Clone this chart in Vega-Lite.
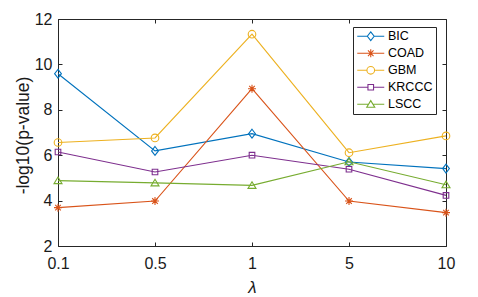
{
  "$schema": "https://vega.github.io/schema/vega-lite/v6.json",
  "width": 388,
  "height": 227,
  "autosize": {"type": "none"},
  "padding": {"left": 58, "top": 19, "right": 32, "bottom": 51},
  "background": "white",
  "config": {
    "view": {"stroke": null},
    "font": "Liberation Sans",
    "axis": {
      "domainColor": "#262626",
      "domainWidth": 1,
      "tickColor": "#262626",
      "tickWidth": 1,
      "labelColor": "#1a1a1a",
      "labelFont": "Liberation Sans",
      "labelFontSize": 16,
      "titleFont": "Liberation Sans",
      "titleColor": "#1a1a1a",
      "titleFontWeight": "normal",
      "grid": false
    }
  },
  "data": {
    "values": [
      {"lambda": "0.1", "series": "BIC", "value": 9.59},
      {"lambda": "0.5", "series": "BIC", "value": 6.19},
      {"lambda": "1", "series": "BIC", "value": 6.95},
      {"lambda": "5", "series": "BIC", "value": 5.7},
      {"lambda": "10", "series": "BIC", "value": 5.41},
      {"lambda": "0.1", "series": "COAD", "value": 3.69},
      {"lambda": "0.5", "series": "COAD", "value": 3.98},
      {"lambda": "1", "series": "COAD", "value": 8.93},
      {"lambda": "5", "series": "COAD", "value": 3.98},
      {"lambda": "10", "series": "COAD", "value": 3.47},
      {"lambda": "0.1", "series": "GBM", "value": 6.56},
      {"lambda": "0.5", "series": "GBM", "value": 6.76},
      {"lambda": "1", "series": "GBM", "value": 11.33},
      {"lambda": "5", "series": "GBM", "value": 6.11},
      {"lambda": "10", "series": "GBM", "value": 6.85},
      {"lambda": "0.1", "series": "KRCCC", "value": 6.14},
      {"lambda": "0.5", "series": "KRCCC", "value": 5.26},
      {"lambda": "1", "series": "KRCCC", "value": 6.0},
      {"lambda": "5", "series": "KRCCC", "value": 5.38},
      {"lambda": "10", "series": "KRCCC", "value": 4.23},
      {"lambda": "0.1", "series": "LSCC", "value": 4.88},
      {"lambda": "0.5", "series": "LSCC", "value": 4.78},
      {"lambda": "1", "series": "LSCC", "value": 4.67},
      {"lambda": "5", "series": "LSCC", "value": 5.71},
      {"lambda": "10", "series": "LSCC", "value": 4.7}
    ]
  },
  "layer": [
    {
      "mark": {"type": "line", "strokeWidth": 1.1},
      "encoding": {
        "x": {
          "field": "lambda", "type": "ordinal",
          "scale": {"type": "point", "padding": 0, "domain": ["0.1", "0.5", "1", "5", "10"]},
          "axis": {
            "orient": "bottom", "labelAngle": 0, "tickSize": -4, "labelPadding": 13,
            "title": "λ", "titleFontStyle": "italic", "titleFontSize": 17,
            "titleX": 194, "titleY": 46.5, "titleBaseline": "alphabetic", "titleAlign": "center"
          }
        },
        "y": {
          "field": "value", "type": "quantitative",
          "scale": {"domain": [2, 12], "nice": false, "zero": false},
          "axis": {
            "orient": "left", "values": [2, 4, 6, 8, 10, 12], "tickSize": -4, "labelPadding": 10,
            "title": "-log10(p-value)", "titleFontSize": 17.5, "titleAngle": 270,
            "titleX": -30, "titleY": 116, "titleBaseline": "alphabetic", "titleAlign": "center"
          }
        },
        "color": {
          "field": "series", "type": "nominal",
          "scale": {"domain": ["BIC", "COAD", "GBM", "KRCCC", "LSCC"], "range": ["#0072BD", "#D95319", "#EDB120", "#7E2F8E", "#77AC30"]},
          "legend": null
        }
      }
    },
    {
      "mark": {"type": "point", "filled": false, "size": 64, "strokeWidth": 1.1, "opacity": 1},
      "encoding": {
        "x": {"field": "lambda", "type": "ordinal", "scale": {"type": "point", "padding": 0, "domain": ["0.1", "0.5", "1", "5", "10"]}, "axis": null},
        "y": {"field": "value", "type": "quantitative", "scale": {"domain": [2, 12], "nice": false, "zero": false}, "axis": null},
        "color": {
          "field": "series", "type": "nominal",
          "scale": {"domain": ["BIC", "COAD", "GBM", "KRCCC", "LSCC"], "range": ["#0072BD", "#D95319", "#EDB120", "#7E2F8E", "#77AC30"]},
          "legend": null
        },
        "shape": {
          "field": "series", "type": "nominal",
          "scale": {
            "domain": ["BIC", "COAD", "GBM", "KRCCC", "LSCC"],
            "range": [
              "M0,-1.1L0.85,0L0,1.1L-0.85,0Z",
              "M-1,0H1M0,-1V1M-0.7,-0.7L0.7,0.7M-0.7,0.7L0.7,-0.7",
              "M0.95,0A0.95,0.95,0,1,1,-0.95,0A0.95,0.95,0,1,1,0.95,0Z",
              "M-0.7,-0.7H0.7V0.7H-0.7Z",
              "M0,-0.9L1,0.75H-1Z"
            ]
          },
          "legend": null
        }
      }
    },
    {
      "transform": [{"filter": "false"}],
      "mark": {"type": "point", "filled": false, "size": 81, "strokeWidth": 1.1, "opacity": 1},
      "encoding": {
        "x": {
          "field": "lambda", "type": "ordinal",
          "scale": {"type": "point", "padding": 0, "domain": ["0.1", "0.5", "1", "5", "10"]},
          "axis": {"orient": "top", "labels": false, "tickSize": -4, "title": null}
        },
        "y": {
          "field": "value", "type": "quantitative",
          "scale": {"domain": [2, 12], "nice": false, "zero": false},
          "axis": {"orient": "right", "values": [2, 4, 6, 8, 10, 12], "labels": false, "tickSize": -4, "title": null}
        },
        "color": {
          "field": "series", "type": "nominal",
          "scale": {"domain": ["BIC", "COAD", "GBM", "KRCCC", "LSCC"], "range": ["#0072BD", "#D95319", "#EDB120", "#7E2F8E", "#77AC30"]},
          "legend": {
            "orient": "none", "legendX": 295, "legendY": 8, "title": null, "padding": 3,
            "strokeColor": "#262626", "fillColor": "white", "cornerRadius": 0,
            "labelFontSize": 12.5, "labelFont": "Liberation Sans", "labelColor": "black", "labelLimit": 120,
            "symbolSize": 81, "symbolStrokeWidth": 1.1, "symbolOffset": 8.5, "labelOffset": 11, "rowPadding": 4
          }
        },
        "shape": {
          "field": "series", "type": "nominal",
          "scale": {
            "domain": ["BIC", "COAD", "GBM", "KRCCC", "LSCC"],
            "range": [
              "M-3,0H-0.76M0.76,0H3M0,-0.98L0.76,0L0,0.98L-0.76,0Z",
              "M-3,0H3M-0.89,0H0.89M0,-0.89V0.89M-0.62,-0.62L0.62,0.62M-0.62,0.62L0.62,-0.62",
              "M-3,0H-0.85M0.85,0H3M0.85,0A0.85,0.85,0,1,1,-0.85,0A0.85,0.85,0,1,1,0.85,0Z",
              "M-3,0H-0.62M0.62,0H3M-0.62,-0.62H0.62V0.62H-0.62Z",
              "M-3,0H-0.6M0.6,0H3M0,-0.8L0.89,0.67H-0.89Z"
            ]
          },
          "legend": {
            "orient": "none", "legendX": 295, "legendY": 8, "title": null, "padding": 3,
            "strokeColor": "#262626", "fillColor": "white", "cornerRadius": 0,
            "labelFontSize": 12.5, "labelFont": "Liberation Sans", "labelColor": "black", "labelLimit": 120,
            "symbolSize": 81, "symbolStrokeWidth": 1.1, "symbolOffset": 8.5, "labelOffset": 11, "rowPadding": 4
          }
        }
      }
    }
  ],
  "resolve": {
    "scale": {"color": "independent", "shape": "independent"},
    "axis": {"x": "independent", "y": "independent"}
  }
}
